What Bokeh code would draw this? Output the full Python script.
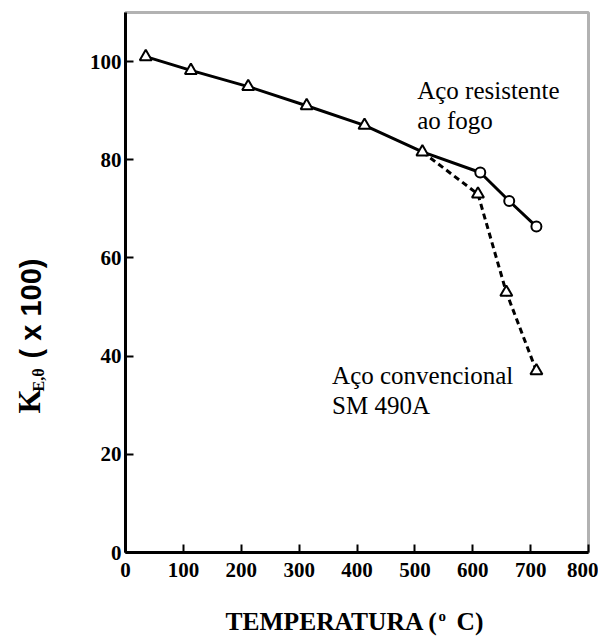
import math
from bokeh.plotting import figure
from bokeh.models import Range1d, Label, FixedTicker, BoxAnnotation
from bokeh.embed import file_html
from bokeh.resources import INLINE

# ---- data ----
temp_common = [35, 113, 212, 313, 413, 513]
k_common = [101.0, 98.2, 94.9, 91.0, 87.0, 81.6]
temp_fire = [613, 663, 710]
k_fire = [77.4, 71.6, 66.4]
temp_conv = [609, 658, 710]
k_conv = [73.0, 53.0, 37.0]
x_ticks = [0, 100, 200, 300, 400, 500, 600, 700, 800]
y_ticks = [0, 20, 40, 60, 80, 100]
x_lim = (0, 800)
y_lim = (0, 110)

# ---- layout (pixels on the canvas) ----
W, H = 598, 636
fx0, fx1 = 125, 588      # pixel of x=0 and x=800
fy0, fy1 = 552, 12       # pixel of y=0 and y=110
sx = (fx1 - fx0) / (x_lim[1] - x_lim[0])
sy = (fy0 - fy1) / (y_lim[1] - y_lim[0])
x_range = Range1d(x_lim[0] - fx0 / sx, x_lim[1] + (W - fx1) / sx)
y_range = Range1d(y_lim[0] - (H - fy0) / sy, y_lim[1] + fy1 / sy)

p = figure(width=W, height=H, x_range=x_range, y_range=y_range,
           output_backend="svg", toolbar_location=None,
           min_border_left=0, min_border_right=0, min_border_top=0, min_border_bottom=0)
p.grid.visible = False
p.outline_line_color = None
p.background_fill_color = "white"
p.border_fill_color = "white"

for ax in (p.xaxis[0], p.yaxis[0]):
    ax.fixed_location = 0
    ax.axis_line_width = 3
    ax.axis_line_color = "black"
    ax.major_tick_in = 8
    ax.major_tick_out = 0
    ax.major_tick_line_width = 2
    ax.minor_tick_line_color = None
    ax.major_label_text_font = "Liberation Serif"
    ax.major_label_text_font_style = "bold"
    ax.major_label_text_font_size = "21px"
    ax.major_label_text_color = "black"
p.xaxis[0].ticker = FixedTicker(ticks=x_ticks)
p.yaxis[0].ticker = FixedTicker(ticks=y_ticks)
p.xaxis[0].bounds = x_lim
p.yaxis[0].bounds = y_lim
p.xaxis[0].major_label_standoff = 10
p.yaxis[0].major_label_standoff = 4

# plot box (top and right borders)
p.add_layout(BoxAnnotation(left=x_lim[0], right=x_lim[1], bottom=y_lim[0], top=y_lim[1],
                           fill_color=None, line_color="black", line_width=3))

# lines
p.line(temp_common + temp_fire, k_common + k_fire, line_width=3, color="black")
p.line([temp_common[-1]] + temp_conv, [k_common[-1]] + k_conv, line_width=3,
       color="black", line_dash="6 4")

# markers
p.scatter(temp_common + temp_conv, k_common + k_conv, marker="triangle", size=12,
          fill_color="white", line_color="black", line_width=2)
p.scatter(temp_fire, k_fire, marker="circle", size=10,
          fill_color="white", line_color="black", line_width=2)

# annotations inside plot
ann_font = "Liberation Serif"
for txt, x, y in [("Aço resistente", 504, 92), ("ao fogo", 504, 86),
                  ("Aço convencional", 357, 34), ("SM 490A", 357, 28)]:
    p.add_layout(Label(x=x, y=y, y_offset=10, text=txt, text_font=ann_font,
                       text_font_size="25px", text_align="left",
                       text_baseline="alphabetic", text_color="black"))


def screen_label(text, px, py, font, size_px, rotated=False):
    corr = 0.4 * size_px
    kw = dict(angle=math.pi / 2, x_offset=-corr) if rotated else dict(y_offset=corr)
    p.add_layout(Label(x=px, y=H - py, x_units="screen", y_units="screen", text=text,
                       text_font=font, text_font_style="bold",
                       text_font_size=f"{size_px}px", text_align="left",
                       text_baseline="alphabetic", text_color="black", **kw))


# y axis title (rotated, mixed fonts)
screen_label("K", 41, 413, "Liberation Serif", 31, True)
screen_label("E,θ", 44, 391, "Liberation Serif", 16, True)
screen_label("( x 100)", 42, 358, "Liberation Sans", 29, True)

# x axis title
screen_label("TEMPERATURA (", 225, 631, "Liberation Serif", 25.5)
screen_label("o", 438, 621, "Liberation Serif", 15)
screen_label("C)", 456, 631, "Liberation Serif", 25.5)

open("out.html", "w").write(file_html(p, INLINE))
